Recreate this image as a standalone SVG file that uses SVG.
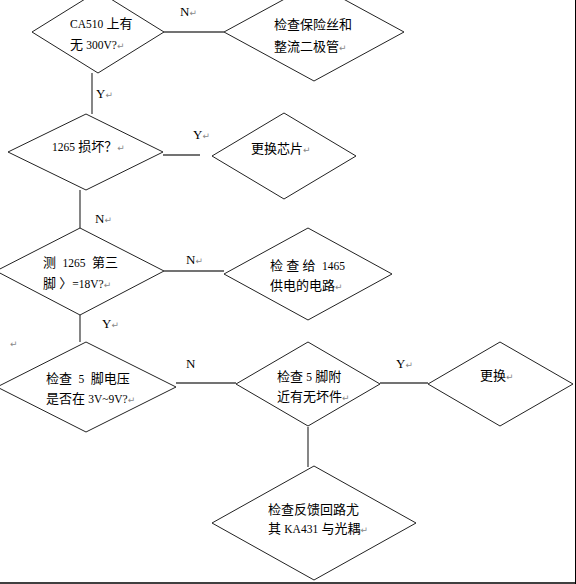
<svg xmlns="http://www.w3.org/2000/svg" width="576" height="584" viewBox="0 0 576 584">
<style>
.d{fill:#fff;stroke:#222;stroke-width:1}
.c{stroke:#444;stroke-width:1.3;fill:none}
.t{font-family:"Liberation Serif","Noto Sans CJK SC",serif;font-size:13px;fill:#000}
.n{font-size:11.5px}
.l{font-family:"Liberation Serif","Noto Sans CJK SC",serif;font-size:13px;fill:#000}
.p{font-family:"DejaVu Sans",sans-serif;font-size:9px;fill:#888}
</style>
<rect x="0" y="0" width="576" height="584" fill="#fff"/>
<g id="connectors">
<line class="c" x1="164" y1="32" x2="224" y2="32"/>
<line class="c" x1="92" y1="73" x2="92" y2="114"/>
<line class="c" x1="163" y1="155" x2="200" y2="155"/>
<line class="c" x1="80" y1="190" x2="80" y2="228"/>
<line class="c" x1="164" y1="271" x2="224" y2="271"/>
<line class="c" x1="80" y1="315" x2="80" y2="342"/>
<line class="c" x1="176" y1="383" x2="236" y2="383"/>
<line class="c" x1="380" y1="383" x2="428" y2="383"/>
<line class="c" x1="308" y1="427" x2="308" y2="467"/>
<text class="l" x="180" y="16">N<tspan class="p">↵</tspan></text>
<text class="l" x="96" y="98">Y<tspan class="p">↵</tspan></text>
<text class="l" x="193" y="139">Y<tspan class="p">↵</tspan></text>
<text class="l" x="95" y="223">N<tspan class="p">↵</tspan></text>
<text class="l" x="186" y="264">N<tspan class="p">↵</tspan></text>
<text class="l" x="102" y="328">Y<tspan class="p">↵</tspan></text>
<text class="l" x="186" y="368">N</text>
<text class="l" x="396" y="368">Y<tspan class="p">↵</tspan></text>
<text class="p" x="10" y="347">↵</text>
</g>
<g id="n1">
<polygon class="d" points="98,-9 164,32 98,73 32,32"/>
<text class="t" x="70" y="28"><tspan class="n">CA510</tspan> 上有</text>
<text class="t" x="70" y="49">无 <tspan class="n">300V?</tspan><tspan class="p">↵</tspan></text>
</g>
<g id="n2">
<polygon class="d" points="314,-17 404,32 314,81 224,32"/>
<text class="t" x="274" y="29">检查保险丝和</text>
<text class="t" x="274" y="51">整流二极管<tspan class="p">↵</tspan></text>
</g>
<g id="n3">
<polygon class="d" points="86,114 163,152 86,190 8,152"/>
<text class="t" x="52" y="151"><tspan class="n">1265</tspan> 损坏？<tspan class="p">↵</tspan></text>
</g>
<g id="n4">
<polygon class="d" points="284,113 356,156 284,199 212,156"/>
<text class="t" x="251" y="153">更换芯片<tspan class="p">↵</tspan></text>
</g>
<g id="n5">
<polygon class="d" points="80,228 164,271 80,315 -4,271"/>
<text class="t" x="43" y="267" xml:space="preserve">测  <tspan class="n">1265</tspan>  第三</text>
<text class="t" x="43" y="288" xml:space="preserve">脚 〉<tspan class="n">=18V?</tspan><tspan class="p">↵</tspan></text>
</g>
<g id="n6">
<polygon class="d" points="308,228 392,274 308,320 224,274"/>
<text class="t" x="270" y="270" xml:space="preserve">检 查 给  <tspan class="n">1465</tspan></text>
<text class="t" x="270" y="290">供电的电路<tspan class="p">↵</tspan></text>
</g>
<g id="n7">
<polygon class="d" points="86,342 176,387 86,432 -3,387"/>
<text class="t" x="46" y="383" xml:space="preserve">检查  <tspan class="n">5</tspan>  脚电压</text>
<text class="t" x="46" y="403">是否在 <tspan class="n">3V~9V?</tspan><tspan class="p">↵</tspan></text>
</g>
<g id="n8">
<polygon class="d" points="308,342 380,384 308,426 236,384"/>
<text class="t" x="277" y="381">检查 <tspan class="n">5</tspan> 脚附</text>
<text class="t" x="277" y="401">近有无坏件<tspan class="p">↵</tspan></text>
</g>
<g id="n9">
<polygon class="d" points="500,342 573,384 500,426 428,384"/>
<text class="t" x="480" y="380">更换<tspan class="p">↵</tspan></text>
</g>
<g id="n10">
<polygon class="d" points="314,466 416,523 314,580 212,523"/>
<text class="t" x="268" y="514">检查反馈回路尤</text>
<text class="t" x="268" y="533">其 <tspan class="n">KA431</tspan> 与光耦<tspan class="p">↵</tspan></text>
</g>
<g id="border">
<line x1="575.5" y1="0" x2="575.5" y2="584" stroke="#000" stroke-width="1"/>
<line x1="0" y1="583" x2="576" y2="583" stroke="#000" stroke-width="1.5"/>
</g>
</svg>
